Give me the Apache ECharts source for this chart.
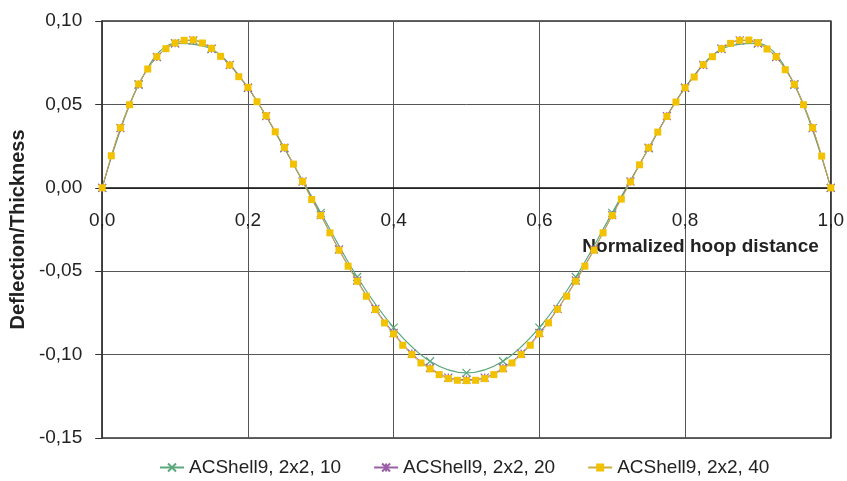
<!DOCTYPE html>
<html>
<head>
<meta charset="utf-8">
<script src="https://cdn.jsdelivr.net/npm/echarts@6/dist/echarts.min.js"></script>
<style>html,body{margin:0;padding:0;background:#fff}#c{width:847px;height:481px}</style>
</head>
<body>
<div id="c"></div>
<script>
const seriesNames = ['ACShell9, 2x2, 10', 'ACShell9, 2x2, 20', 'ACShell9, 2x2, 40'];
const xTickLabels = ['0,0', '0,2', '0,4', '0,6', '0,8', '1,0'];
const yTickLabels = ['-0,15', '-0,10', '-0,05', '0,00', '0,05', '0,10'];

const x10 = [0, 0.05, 0.1, 0.15, 0.2, 0.25, 0.3, 0.35, 0.4, 0.45, 0.5, 0.55, 0.6, 0.65, 0.7, 0.75, 0.8, 0.85, 0.9, 0.95, 1];
const y10 = [0, 0.0618, 0.0866, 0.0832, 0.0600, 0.0236, -0.0150, -0.0535, -0.0838, -0.1040, -0.1110, -0.1040, -0.0838, -0.0535, -0.0150, 0.0236, 0.0600, 0.0832, 0.0866, 0.0618, 0];

const x20 = [0, 0.025, 0.05, 0.075, 0.1, 0.125, 0.15, 0.175, 0.2, 0.225, 0.25, 0.275, 0.3, 0.325, 0.35, 0.375, 0.4, 0.425, 0.45, 0.475, 0.5,
  0.525, 0.55, 0.575, 0.6, 0.625, 0.65, 0.675, 0.7, 0.725, 0.75, 0.775, 0.8, 0.825, 0.85, 0.875, 0.9, 0.925, 0.95, 0.975, 1];
const y20 = [0, 0.0358, 0.0620, 0.0784, 0.0866, 0.0884, 0.0834, 0.0736, 0.0600, 0.0430, 0.0240, 0.0038, -0.0164, -0.0370, -0.0556, -0.0726, -0.0870, -0.0994, -0.1080, -0.1138, -0.1150,
  -0.1138, -0.1080, -0.0994, -0.0870, -0.0726, -0.0556, -0.0370, -0.0164, 0.0038, 0.0240, 0.0430, 0.0600, 0.0736, 0.0834, 0.0884, 0.0866, 0.0784, 0.0620, 0.0358, 0];

const x40 = [0, 0.0125, 0.025, 0.0375, 0.05, 0.0625, 0.075, 0.0875, 0.1, 0.1125, 0.125, 0.1375, 0.15, 0.1625, 0.175, 0.1875, 0.2, 0.2125, 0.225, 0.2375,
  0.25, 0.2625, 0.275, 0.2875, 0.3, 0.3125, 0.325, 0.3375, 0.35, 0.3625, 0.375, 0.3875, 0.4, 0.4125, 0.425, 0.4375, 0.45, 0.4625, 0.475, 0.4875,
  0.5, 0.5125, 0.525, 0.5375, 0.55, 0.5625, 0.575, 0.5875, 0.6, 0.6125, 0.625, 0.6375, 0.65, 0.6625, 0.675, 0.6875, 0.7, 0.7125, 0.725, 0.7375,
  0.75, 0.7625, 0.775, 0.7875, 0.8, 0.8125, 0.825, 0.8375, 0.85, 0.8625, 0.875, 0.8875, 0.9, 0.9125, 0.925, 0.9375, 0.95, 0.9625, 0.975, 0.9875, 1];
const y40 = [0, 0.0192, 0.0360, 0.0498, 0.0622, 0.0712, 0.0786, 0.0834, 0.0868, 0.0884, 0.0886, 0.0868, 0.0836, 0.0788, 0.0736, 0.0666, 0.0602, 0.0516, 0.0432, 0.0336,
  0.0242, 0.0142, 0.0038, -0.0070, -0.0166, -0.0270, -0.0374, -0.0470, -0.0560, -0.0650, -0.0730, -0.0810, -0.0876, -0.0944, -0.1000, -0.1050, -0.1086, -0.1120, -0.1144, -0.1154,
  -0.1156, -0.1154, -0.1144, -0.1120, -0.1086, -0.1050, -0.1000, -0.0944, -0.0876, -0.0810, -0.0728, -0.0650, -0.0560, -0.0470, -0.0374, -0.0270, -0.0166, -0.0068, 0.0036, 0.0138,
  0.0240, 0.0334, 0.0428, 0.0514, 0.0600, 0.0664, 0.0738, 0.0786, 0.0834, 0.0866, 0.0884, 0.0886, 0.0870, 0.0832, 0.0786, 0.0708, 0.0620, 0.0498, 0.0360, 0.0190, 0];

const pair = (xs, ys) => xs.map((x, i) => [x, ys[i]]);
const FONT = '"Liberation Sans", Arial, sans-serif';
const green = '#5aa87c', purple = '#9a5ea6', yellow = '#f2c100';

const GRID_TOP = 21, GRID_BOTTOM = 43, H = 481;
const Y_MIN = -0.15, Y_MAX = 0.1;
// shift the x axis (line + labels) up to the y = 0 level
const plotH = H - GRID_TOP - GRID_BOTTOM;
const zeroOffset = -plotH * (0 - Y_MIN) / (Y_MAX - Y_MIN);

const chart = echarts.init(document.getElementById('c'), null, {renderer: 'canvas'});
chart.setOption({
  animation: false,
  backgroundColor: '#ffffff',
  textStyle: {fontFamily: FONT},
  grid: {left: 95, right: 14, top: GRID_TOP, bottom: GRID_BOTTOM, show: true, borderColor: '#333', borderWidth: 1.5, backgroundColor: 'transparent'},
  legend: {
    left: 154, top: 453, itemGap: 32, itemWidth: 24, itemHeight: 10,
    textStyle: {fontFamily: FONT, fontSize: 19, color: '#222'},
    data: seriesNames
  },
  xAxis: {
    type: 'value', min: 0, max: 1, interval: 0.2,
    offset: zeroOffset,
    axisLine: {onZero: false, lineStyle: {color: '#111', width: 1.5}},
    axisTick: {show: false},
    axisLabel: {margin: 23, fontSize: 19, color: '#222', fontFamily: FONT,
      formatter: v => xTickLabels[Math.round(v / 0.2)]},
    splitLine: {show: true, lineStyle: {color: '#555', width: 1}},
    name: 'Normalized hoop distance', nameLocation: 'end', nameGap: -12,
    nameTextStyle: {fontSize: 19, fontWeight: 'bold', color: '#222', fontFamily: FONT, align: 'right', verticalAlign: 'top', padding: [49, 0, 0, 0]}
  },
  yAxis: {
    type: 'value', min: Y_MIN, max: Y_MAX, interval: 0.05,
    axisLine: {show: true, onZero: false, lineStyle: {color: '#333', width: 1.5}},
    axisTick: {show: true, length: 7, lineStyle: {color: '#333'}},
    axisLabel: {margin: 20, fontSize: 19, color: '#222', fontFamily: FONT,
      formatter: v => yTickLabels[Math.round((v - Y_MIN) / 0.05)]},
    splitLine: {show: true, lineStyle: {color: '#555', width: 1}},
    name: 'Deflection/Thickness', nameLocation: 'middle', nameGap: 60,
    nameTextStyle: {fontSize: 20, fontWeight: 'bold', color: '#222', fontFamily: FONT}
  },
  series: [
    {
      name: seriesNames[0], type: 'line', data: pair(x10, y10), smooth: 0.35,
      showAllSymbol: true, symbol: 'path://M0,0L10,10M10,0L0,10', symbolSize: 8,
      lineStyle: {color: green, width: 1.2},
      itemStyle: {color: green, borderColor: green, borderWidth: 1.2}
    },
    {
      name: seriesNames[1], type: 'line', data: pair(x20, y20), smooth: 0.35,
      showAllSymbol: true, symbol: 'path://M0,0L10,10M10,0L0,10M5,0L5,10', symbolSize: 8,
      lineStyle: {color: purple, width: 1},
      itemStyle: {color: purple, borderColor: purple, borderWidth: 1.2}
    },
    {
      name: seriesNames[2], type: 'line', data: pair(x40, y40), smooth: 0.35,
      showAllSymbol: true, symbol: 'rect', symbolSize: 7,
      lineStyle: {color: '#c9b03a', width: 1},
      itemStyle: {color: yellow, borderColor: yellow, borderWidth: 0}
    }
  ]
});
</script>
</body>
</html>
